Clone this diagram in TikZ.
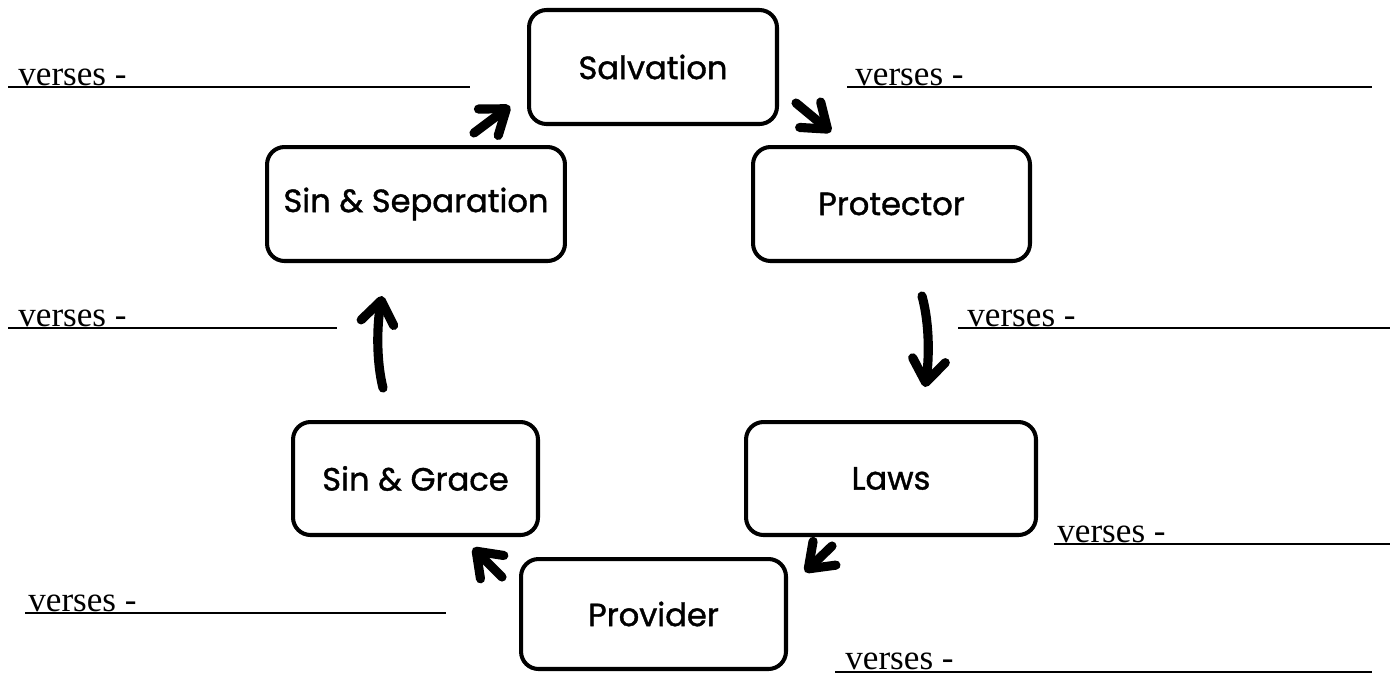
\documentclass[tikz,border=0pt]{standalone}
\usepackage{fontspec}
\setmainfont{Liberation Serif}
\newfontfamily\boxfont{Poppins}[FakeBold=1.2]
\usetikzlibrary{arrows.meta}
\tikzset{
  box/.style={draw, line width=2.3pt, rounded corners=0.35cm, inner sep=0pt,
    font=\boxfont\fontsize{18.3}{22}\selectfont, align=center},
  verse/.style={anchor=base west, inner sep=0pt, font=\fontsize{20}{23}\selectfont},
  rule/.style={line width=1.1pt},
  cyc/.style={line width=5.2pt, line cap=round,
    -{Straight Barb[length=0.45cm, width=0.66cm, round]}}
}
\begin{document}
\begin{tikzpicture}[x=0.02cm, y=-0.02cm]
\useasboundingbox (0,0) rectangle (1392,674);
% boxes
\node[box, minimum width=4.96cm, minimum height=2.28cm] (salv) at (653,67) {Salvation};
\node[box, minimum width=5.96cm, minimum height=2.28cm] (sep) at (416,204) {Sin \& Separation};
\node[box, minimum width=5.54cm, minimum height=2.28cm] (prot) at (891.5,204) {Protector};
\node[box, minimum width=5.80cm, minimum height=2.26cm] (laws) at (891,478.5) {Laws};
\node[box, minimum width=4.90cm, minimum height=2.26cm] (grace) at (415.5,478.5) {Sin \& Grace};
\node[box, minimum width=5.30cm, minimum height=2.20cm] (prov) at (653.5,614) {Provider};
% arrow end points
\coordinate (a1s) at (474,133); \coordinate (a1e) at (510,106);
\coordinate (a2s) at (796,103); \coordinate (a2e) at (831,132);
\coordinate (a3s) at (922,296); \coordinate (a3e) at (925,387);
\coordinate (a4s) at (383,388); \coordinate (a4e) at (382,296);
\coordinate (a5s) at (832,546); \coordinate (a5e) at (805,572);
\coordinate (a6s) at (502,577); \coordinate (a6e) at (473,548);
\draw[cyc] (a1s) -- (a1e);
\draw[cyc] (a2s) -- (a2e);
\draw[cyc] (a3s) .. controls (930,325) and (929,360) .. (a3e);
\draw[cyc] (a4s) .. controls (376,360) and (377,325) .. (a4e);
\draw[cyc] (a5s) -- (a5e);
\draw[cyc] (a6s) -- (a6e);
% verses lines
\node[verse] (v1) at (18,85) {verses -};
\coordinate (l1a) at (8,87); \coordinate (l1b) at (470,87);
\draw[rule] (l1a) -- (l1b);
\node[verse] (v2) at (855,85) {verses -};
\coordinate (l2a) at (847,87); \coordinate (l2b) at (1372,87);
\draw[rule] (l2a) -- (l2b);
\node[verse] (v3) at (18,326) {verses -};
\coordinate (l3a) at (8,328); \coordinate (l3b) at (337,328);
\draw[rule] (l3a) -- (l3b);
\node[verse] (v4) at (967,326) {verses -};
\coordinate (l4a) at (958,328); \coordinate (l4b) at (1390,328);
\draw[rule] (l4a) -- (l4b);
\node[verse] (v5) at (1057,542) {verses -};
\coordinate (l5a) at (1054,544); \coordinate (l5b) at (1390,544);
\draw[rule] (l5a) -- (l5b);
\node[verse] (v6) at (28,611) {verses -};
\coordinate (l6a) at (25,613); \coordinate (l6b) at (446,613);
\draw[rule] (l6a) -- (l6b);
\node[verse] (v7) at (845,669) {verses -};
\coordinate (l7a) at (835,672); \coordinate (l7b) at (1372,672);
\draw[rule] (l7a) -- (l7b);
\end{tikzpicture}
\end{document}
